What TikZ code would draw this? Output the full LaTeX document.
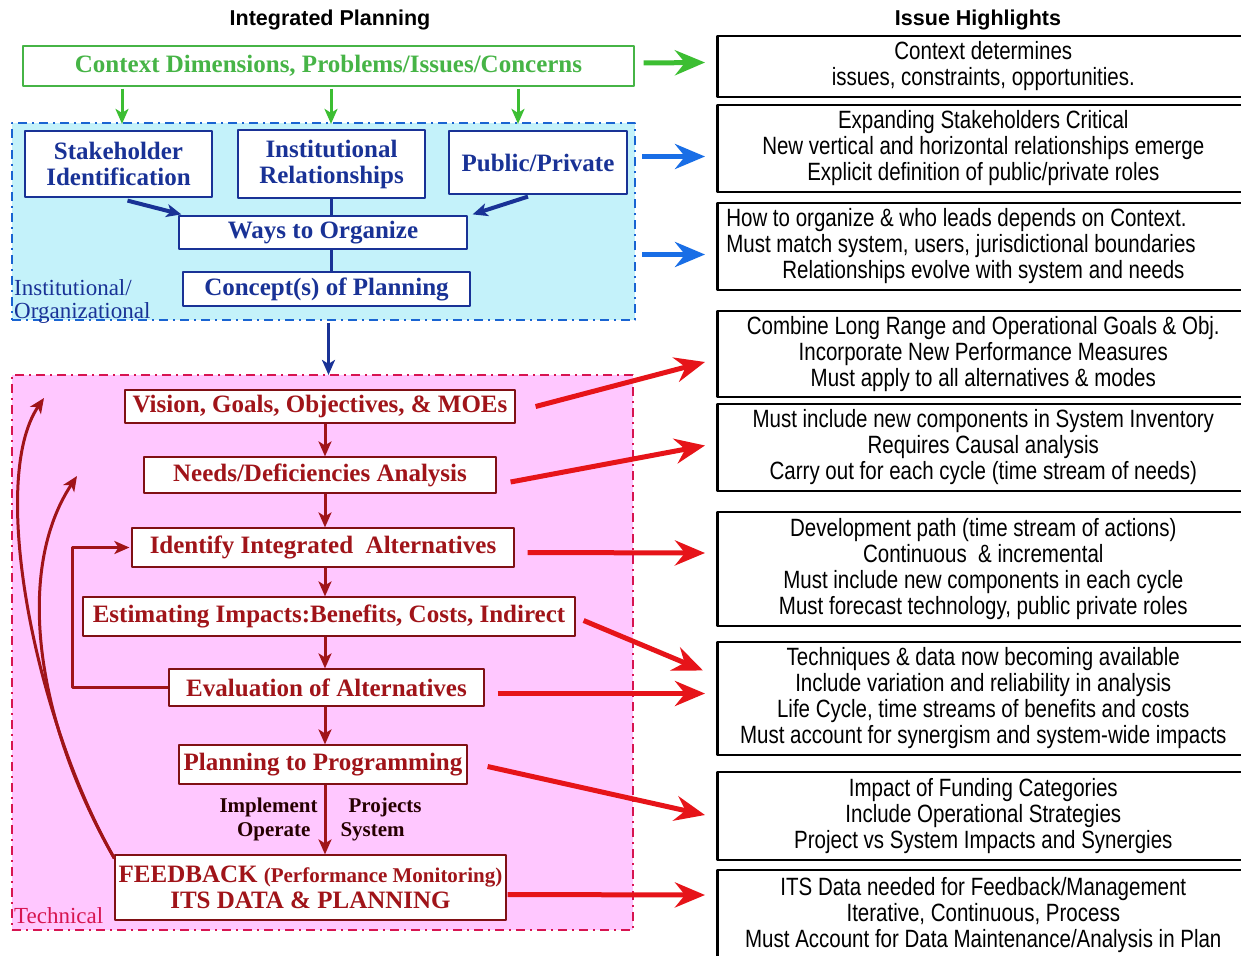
\documentclass[tikz,border=0pt]{standalone}
\usepackage{fontspec}
\setmainfont{Liberation Serif}
\newfontfamily\narrowsans[FakeStretch=0.82]{Liberation Sans}
\newfontfamily\headsans{Liberation Sans}
\usepackage{tikz}
\usetikzlibrary{arrows.meta,positioning,calc}

\definecolor{ctxgreen}{RGB}{70,180,70}
\definecolor{arrgreen}{RGB}{60,190,50}
\definecolor{instblue}{RGB}{25,50,150}
\definecolor{arrblue}{RGB}{25,110,230}
\definecolor{dashblue}{RGB}{25,100,210}
\definecolor{instfill}{RGB}{196,242,250}
\definecolor{techfill}{RGB}{255,199,255}
\definecolor{techred}{RGB}{160,20,25}
\definecolor{arrred}{RGB}{230,20,25}
\definecolor{dashred}{RGB}{215,20,80}

\begin{document}
\begin{tikzpicture}[x=1pt, y=-1pt, line join=round,
    boxtext/.style={font=\fontsize{25}{26}\selectfont\bfseries, align=center, inner sep=0pt, fill=white, line width=1.2pt},
    ctxbox/.style={boxtext, draw=ctxgreen, text=ctxgreen},
    instbox/.style={boxtext, draw=instblue, text=instblue},
    techbox/.style={boxtext, draw=techred!80!black, text=techred},
    region/.style={line width=2.2pt, dash pattern=on 9pt off 5pt on 2pt off 5pt, inner sep=0pt},
    note/.style={draw=black, line width=2.6pt, fill=white, font=\narrowsans\fontsize{25}{26}\selectfont,
        align=center, anchor=west, minimum width=532pt, inner sep=0pt},
    heading/.style={font=\headsans\bfseries\fontsize{21.5}{24}\selectfont},
    bigtip/.style={-{Stealth[length=30pt,width=25pt,inset=10pt]}, line width=5pt},
    smalltip/.style={-{Stealth[length=15pt,width=13pt,inset=4pt]}, line width=3pt},
  ]
    \fill[white] (0,0) rectangle (1241,955);
    \clip (0,0) rectangle (1241,955);

    \node[heading] (ttlleft) at (330,20) {Integrated Planning};
    \node[heading] (ttlright) at (978,20) {Issue Highlights};

    % shaded groups
    \node[region, draw=dashblue, fill=instfill, minimum width=623pt, minimum height=197pt] (instreg) at (323.5,221.5) {};
    \node[region, draw=dashred, fill=techfill, minimum width=621pt, minimum height=555pt] (techreg) at (322.5,652.5) {};
    \node[font=\fontsize{23}{23}\selectfont, text=instblue, align=left, anchor=north west, inner sep=0pt] (instlbl) at (14,279) {Institutional/\\Organizational};
    \node[font=\fontsize{23}{23}\selectfont, text=dashred, anchor=north west, inner sep=0pt] (techlbl) at (14,907) {Technical};

    \node[ctxbox, minimum width=611pt, minimum height=40pt] (ctx) at (328.5,66) {Context Dimensions, Problems/Issues/Concerns};

    \node[instbox, minimum width=187pt, minimum height=66pt] (stake) at (118.5,164) {Stakeholder\\Identification};
    \node[instbox, minimum width=187pt, minimum height=68pt] (inst) at (331.5,164) {Institutional\\Relationships};
    \node[instbox, minimum width=178pt, minimum height=63pt] (pubpriv) at (538,162.5) {Public/Private};
    \node[instbox, minimum width=288pt, minimum height=33pt] (ways) at (323,232.5) {Ways to Organize};
    \node[instbox, minimum width=287pt, minimum height=34pt] (concept) at (326.5,289) {Concept(s) of Planning};

    \node[techbox, minimum width=390pt, minimum height=33pt] (vision) at (320,406.5) {Vision, Goals, Objectives, \& MOEs};
    \node[techbox, minimum width=352pt, minimum height=36pt] (needs) at (320,475) {Needs/Deficiencies Analysis};
    \node[techbox, minimum width=382pt, minimum height=39pt] (ident) at (323,547.5) {Identify Integrated\ \ Alternatives};
    \node[techbox, minimum width=492pt, minimum height=39pt] (estim) at (329,616.5) {Estimating Impacts:Benefits, Costs, Indirect};
    \node[techbox, minimum width=315pt, minimum height=37pt] (evalalt) at (326.5,687.5) {Evaluation of Alternatives};
    \node[techbox, minimum width=288pt, minimum height=39pt] (plan) at (323,764.5) {Planning to Programming};
    \node[techbox, minimum width=391pt, minimum height=65pt] (feedback) at (310.5,887.5) {FEEDBACK {\fontsize{21}{26}\selectfont(Performance Monitoring)}\\ITS DATA \& PLANNING};

    % issue highlights
    \node[note, minimum height=61pt] (hl1) at (716,66.5) {Context determines\\issues, constraints, opportunities.};
    \node[note, minimum height=87pt] (hl2) at (716,148.5) {Expanding Stakeholders Critical\\New vertical and horizontal relationships emerge\\Explicit definition of public/private roles};
    \node[note, minimum height=87pt, align=flush left, text width=514pt, inner xsep=9pt] (hl3) at (716,246.5) {How to organize \& who leads depends on Context.\\Must match system, users, jurisdictional boundaries\\\hspace*{56pt}Relationships evolve with system and needs};
    \node[note, minimum height=86pt] (hl4) at (716,354) {Combine Long Range and Operational Goals \& Obj.\\Incorporate New Performance Measures\\Must apply to all alternatives \& modes};
    \node[note, minimum height=87pt] (hl5) at (716,447.5) {Must include new components in System Inventory\\Requires Causal analysis\\Carry out for each cycle (time stream of needs)};
    \node[note, minimum height=114pt] (hl6) at (716,569) {Development path (time stream of actions)\\Continuous\ \ \& incremental\\Must include new components in each cycle\\Must forecast technology, public private roles};
    \node[note, minimum height=113pt] (hl7) at (716,698.5) {Techniques \& data now becoming available\\Include variation and reliability in analysis\\Life Cycle, time streams of benefits and costs\\Must account for synergism and system-wide impacts};
    \node[note, minimum height=88pt] (hl8) at (716,816) {Impact of Funding Categories\\Include Operational Strategies\\Project vs System Impacts and Synergies};
    \node[note, minimum height=90pt] (hl9) at (716,915) {ITS Data needed for Feedback/Management\\Iterative, Continuous, Process\\Must Account for Data Maintenance/Analysis in Plan};

    % context arrows
    \foreach \gx in {122,331,518}
        \draw[arrgreen, smalltip] ([yshift=-2pt]ctx.south -| \gx,0) -- ([yshift=-2pt]instreg.north -| \gx,0);
    \draw[arrgreen, bigtip] ($(ctx.east)+(9,-3)$) -- ($(hl1.west)+(-11,-4)$);

    % institutional arrows
    \draw[instblue, smalltip, line width=4pt] ($(stake.south)+(9,3)$) -- ($(ways.north west)+(3,-1)$);
    \draw[instblue, smalltip, line width=4pt] ($(pubpriv.south)+(-10,2)$) -- ($(ways.north east)+(5,-1)$);
    \draw[instblue, line width=3pt] (inst.south) -- (inst.south |- ways.north);
    \draw[instblue, line width=3pt] (inst.south |- ways.south) -- (inst.south |- concept.north);
    \draw[instblue, smalltip] ($(concept.south |- instreg.south)+(2,2)$) -- ($(concept.south |- techreg.north)+(2,1)$);
    \draw[arrblue, bigtip] ($(instreg.east |- hl2.west)+(6,8)$) -- ($(hl2.west)+(-11,8)$);
    \draw[arrblue, bigtip] ($(instreg.east |- hl3.west)+(6,8)$) -- ($(hl3.west)+(-11,8)$);

    % technical chain
    \foreach \a/\b in {vision/needs, needs/ident, ident/estim, estim/evalalt, evalalt/plan}
        \draw[techred, smalltip] ([xshift=2pt]\a.south -| plan.north) -- ([xshift=2pt]\b.north -| plan.north);
    \draw[techred, smalltip] ([xshift=2pt]plan.south) -- ([xshift=2pt]plan.south |- feedback.north)
        node[midway, left=6pt, inner sep=0pt, align=right, text=black!85!red, font=\fontsize{21}{24}\selectfont\bfseries] (implbl) {Implement\\Operate\hspace*{7pt}}
        node[midway, right=14pt, inner sep=0pt, align=left, text=black!85!red, font=\fontsize{21}{24}\selectfont\bfseries] (projlbl) {\hspace*{8pt}Projects\\System};

    \coordinate (loopx) at (72,0);
    \draw[techred, smalltip] (evalalt.west) -- (evalalt.west -| loopx) |- ([xshift=-2pt]ident.west);
    \coordinate (visreturn) at (44,398);
    \coordinate (needreturn) at (77,476);
    \draw[techred, smalltip] ([yshift=-4pt]feedback.north west) .. controls (35,720) and (-12,480) .. (visreturn);
    \draw[techred, smalltip] ([yshift=-4pt]feedback.north west) .. controls (35,720) and (15,570) .. (needreturn);

    \draw[arrred, bigtip] ($(vision.east)+(20,0)$) -- ($(hl4.west)+(-11,8)$);
    \draw[arrred, bigtip] ($(needs.east)+(14,7)$) -- ($(hl5.west)+(-11,-2)$);
    \draw[arrred, bigtip] ($(ident.east)+(13,5)$) -- ($(hl6.west)+(-11,-16)$);
    \draw[arrred, bigtip] ($(estim.east)+(8,4)$) -- ($(hl7.west)+(-13,-28)$);
    \draw[arrred, bigtip] ($(evalalt.east)+(13,6)$) -- ($(hl7.west)+(-11,-5)$);
    \draw[arrred, bigtip] ($(plan.east)+(20,2)$) -- ($(hl8.west)+(-11,-1)$);
    \draw[arrred, bigtip] ($(feedback.east)+(1,7)$) -- ($(hl9.west)+(-11,-20)$);
\end{tikzpicture}
\end{document}
